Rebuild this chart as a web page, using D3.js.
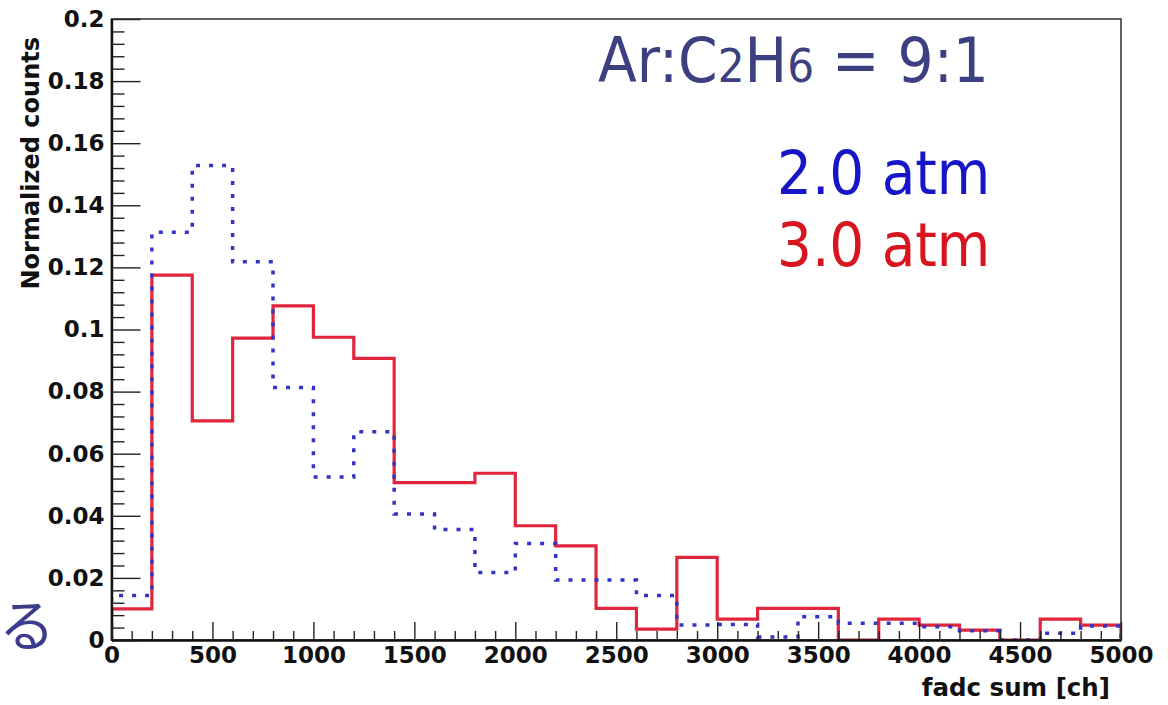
<!DOCTYPE html>
<html>
<head>
<meta charset="utf-8">
<script src="https://cdn.jsdelivr.net/npm/d3@7"></script>
<style>
  html, body { margin: 0; padding: 0; background: #fff; }
  svg { display: block; }
</style>
</head>
<body>
<svg id="chart" width="1168" height="705"></svg>
<script>
// Bin lower edges of the fadc sum histogram [ch], 200 ch per bin
const binStarts = [0, 200, 400, 600, 800, 1000, 1200, 1400, 1600, 1800, 2000, 2200, 2400,
                   2600, 2800, 3000, 3200, 3400, 3600, 3800, 4000, 4200, 4400, 4600, 4800];
const binWidth = 200;

// Normalized counts, 2.0 atm (dotted blue)
const atm20 = [0.0143, 0.1313, 0.1528, 0.1218, 0.0813, 0.0525, 0.0671, 0.0406, 0.0356, 0.0217,
               0.0311, 0.0193, 0.0193, 0.0143, 0.0048, 0.0050, 0.0010, 0.0075, 0.0054, 0.0054,
               0.0043, 0.0030, 0.0000, 0.0022, 0.0045];

// Normalized counts, 3.0 atm (solid red)
const atm30 = [0.0100, 0.1175, 0.0706, 0.0972, 0.1076, 0.0975, 0.0907, 0.0507, 0.0507, 0.0537,
               0.0368, 0.0303, 0.0102, 0.0035, 0.0266, 0.0067, 0.0102, 0.0102, 0.0000, 0.0067,
               0.0048, 0.0032, 0.0000, 0.0067, 0.0048];

// Axis ticks and labels
const xMajor = [0, 500, 1000, 1500, 2000, 2500, 3000, 3500, 4000, 4500, 5000];
const xTickLabels = ["0", "500", "1000", "1500", "2000", "2500", "3000", "3500", "4000", "4500", "5000"];
const yMajor = [0, 0.02, 0.04, 0.06, 0.08, 0.1, 0.12, 0.14, 0.16, 0.18, 0.2];
const yTickLabels = ["0", "0.02", "0.04", "0.06", "0.08", "0.1", "0.12", "0.14", "0.16", "0.18", "0.2"];

const svg = d3.select("#chart");
const padL = 111.5, padR = 1121, padT = 19, padB = 640;

const x = d3.scaleLinear().domain([0, 5000]).range([padL, padR]);
const y = d3.scaleLinear().domain([0, 0.2]).range([padB, padT]);

const tickFont = "'DejaVu Sans', sans-serif";

// Clip region for the histogram outlines
svg.append("defs").append("clipPath").attr("id", "plotClip")
  .append("rect").attr("x", padL).attr("y", padT)
  .attr("width", padR - padL).attr("height", padB - padT);

// Step outline of a histogram, ROOT style
function stepPath(values) {
  const pts = [[x(binStarts[0]), y(0)]];
  values.forEach((v, i) => {
    pts.push([x(binStarts[i]), y(v)]);
    pts.push([x(binStarts[i] + binWidth), y(v)]);
  });
  pts.push([x(binStarts[binStarts.length - 1] + binWidth), y(0)]);
  return d3.line()(pts);
}

const plot = svg.append("g").attr("clip-path", "url(#plotClip)");

plot.append("path")
  .attr("d", stepPath(atm30))
  .attr("fill", "none")
  .attr("stroke", "#e0263c")
  .attr("stroke-width", 3.2);

plot.append("path")
  .attr("d", stepPath(atm20))
  .attr("fill", "none")
  .attr("stroke", "#3434c4")
  .attr("stroke-width", 3.5)
  .attr("stroke-dasharray", "4,9");

// Frame
svg.append("rect")
  .attr("x", padL).attr("y", padT)
  .attr("width", padR - padL).attr("height", padB - padT)
  .attr("fill", "none").attr("stroke", "#3a3a3a").attr("stroke-width", 1.6);

// Minor ticks
const yMinor = d3.range(0, 50).map(i => i * 0.004).filter(v => Math.round(v * 1000) % 20 !== 0);
const xMinor = d3.range(0, 50).map(i => i * 100).filter(v => v % 500 !== 0);

svg.append("g").attr("transform", `translate(${padL},0)`)
  .call(d3.axisLeft(y).tickValues(yMinor).tickSize(-13).tickSizeOuter(0).tickFormat(""))
  .call(g => g.select(".domain").remove())
  .call(g => g.selectAll("line").attr("stroke", "#222").attr("stroke-width", 1.4));

svg.append("g").attr("transform", `translate(0,${padB})`)
  .call(d3.axisBottom(x).tickValues(xMinor).tickSize(-9).tickSizeOuter(0).tickFormat(""))
  .call(g => g.select(".domain").remove())
  .call(g => g.selectAll("line").attr("stroke", "#222").attr("stroke-width", 1.4));

// Major ticks and labels
const yAxis = svg.append("g").attr("transform", `translate(${padL},0)`)
  .call(d3.axisLeft(y).tickValues(yMajor).tickSize(-29).tickSizeOuter(0).tickPadding(7)
    .tickFormat((d, i) => yTickLabels[i]));
yAxis.select(".domain").attr("stroke", "#111").attr("stroke-width", 2.4);
yAxis.selectAll("line").attr("stroke", "#222").attr("stroke-width", 1.4);
yAxis.selectAll("text")
  .attr("fill", "#111")
  .style("font-family", tickFont).style("font-weight", "bold").style("font-size", "23px");

const xAxis = svg.append("g").attr("transform", `translate(0,${padB})`)
  .call(d3.axisBottom(x).tickValues(xMajor).tickSize(-18).tickSizeOuter(0).tickPadding(7)
    .tickFormat((d, i) => xTickLabels[i]));
xAxis.select(".domain").attr("stroke", "#111").attr("stroke-width", 2.4);
xAxis.selectAll("line").attr("stroke", "#222").attr("stroke-width", 1.4);
xAxis.selectAll("text")
  .attr("fill", "#111")
  .style("font-family", tickFont).style("font-weight", "bold").style("font-size", "23px");

// Axis titles
svg.append("text")
  .attr("x", 1110).attr("y", 696)
  .attr("text-anchor", "end")
  .attr("fill", "#111")
  .style("font-family", tickFont).style("font-weight", "bold").style("font-size", "24.5px")
  .text("fadc sum [ch]");

svg.append("text")
  .attr("transform", "translate(39,37) rotate(-90)")
  .attr("text-anchor", "end")
  .attr("fill", "#111")
  .style("font-family", tickFont).style("font-weight", "bold").style("font-size", "24px")
  .text("Normalized counts");

// Gas mixture annotation
const noteFont = "'DejaVu Sans Condensed', 'DejaVu Sans', sans-serif";
const mix = svg.append("text")
  .attr("x", 598).attr("y", 82)
  .attr("fill", "#3d4080")
  .style("font-family", noteFont).style("font-stretch", "condensed").style("font-size", "63px");
mix.append("tspan").text("Ar:C");
mix.append("tspan").style("font-size", "47px").text("2");
mix.append("tspan").text("H");
mix.append("tspan").style("font-size", "47px").text("6");
mix.append("tspan").text(" = 9:1");

// Legend labels
svg.append("text")
  .attr("x", 777).attr("y", 194)
  .attr("fill", "#1616c8")
  .style("font-family", noteFont).style("font-stretch", "condensed").style("font-size", "61px")
  .text("2.0 atm");

svg.append("text")
  .attr("x", 777).attr("y", 266)
  .attr("fill", "#d8141e")
  .style("font-family", noteFont).style("font-stretch", "condensed").style("font-size", "61px")
  .text("3.0 atm");

// Slide text at the left margin
svg.append("text")
  .attr("x", -1).attr("y", 646)
  .attr("fill", "#3b3b8c")
  .style("font-family", "'Noto Sans CJK JP', sans-serif").style("font-size", "56px")
  .text("る");
</script>
</body>
</html>
